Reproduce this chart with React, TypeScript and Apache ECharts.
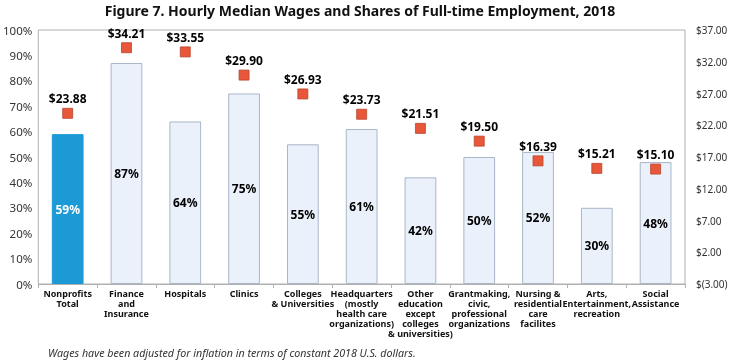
import React, { useEffect, useRef } from "react";
import * as echarts from "echarts";

const categories = [
  "Nonprofits\nTotal",
  "Finance\nand\nInsurance",
  "Hospitals",
  "Clinics",
  "Colleges\n& Universities",
  "Headquarters\n(mostly\nhealth care\norganizations)",
  "Other\neducation\nexcept\ncolleges\n& universities)",
  "Grantmaking,\ncivic,\nprofessional\norganizations",
  "Nursing &\nresidential\ncare\nfacilites",
  "Arts,\nEntertainment,\nrecreation",
  "Social\nAssistance",
];
const fullTimeShare = [59, 87, 64, 75, 55, 61, 42, 50, 52, 30, 48];
const medianWage = [23.88, 34.21, 33.55, 29.9, 26.93, 23.73, 21.51, 19.5, 16.39, 15.21, 15.1];

const titleText = "Figure 7. Hourly Median Wages and Shares of Full-time Employment, 2018";
const noteText = "Wages have been adjusted for inflation in terms of constant 2018 U.S. dollars.";

const FONT = "'Noto Sans', 'DejaVu Sans', sans-serif";

export default function App() {
  const ref = useRef<HTMLDivElement>(null);
  useEffect(() => {
    if (!ref.current) return;
    const chart = echarts.init(ref.current, undefined, { renderer: "svg" });
    chart.setOption({
      animation: false,
      textStyle: { fontFamily: FONT },
      grid: {
        left: 38,
        right: 59,
        top: 30,
        bottom: 80,
        show: true,
        borderColor: "#b0b0b0",
        borderWidth: 1,
        backgroundColor: "transparent",
      },
      graphic: [
        {
          type: "text",
          x: 360,
          y: 10,
          style: {
            text: titleText,
            textAlign: "center",
            textVerticalAlign: "middle",
            font: `bold 14px ${FONT}`,
            fill: "#111",
          },
        },
        {
          type: "text",
          x: 48,
          y: 353,
          style: {
            text: noteText,
            textAlign: "left",
            textVerticalAlign: "middle",
            font: `italic 10.7px ${FONT}`,
            fill: "#333",
          },
        },
      ],
      xAxis: {
        type: "category",
        data: categories,
        axisLine: { show: true, lineStyle: { color: "#b0b0b0" } },
        axisTick: { show: true, length: 4, lineStyle: { color: "#b0b0b0" } },
        axisLabel: {
          interval: 0,
          margin: 4,
          fontWeight: 700,
          fontSize: 9,
          lineHeight: 10,
          color: "#111",
          fontFamily: FONT,
        },
      },
      yAxis: [
        {
          type: "value",
          min: 0,
          max: 100,
          interval: 10,
          position: "left",
          axisLine: { show: false },
          axisTick: { show: false },
          splitLine: { show: false },
          axisLabel: {
            formatter: "{value}%",
            fontSize: 11.5,
            color: "#333",
            margin: 6,
            fontFamily: FONT,
          },
        },
        {
          type: "value",
          min: -3,
          max: 37,
          interval: 5,
          position: "right",
          axisLine: { show: false },
          axisTick: { show: false },
          splitLine: { show: false },
          axisLabel: {
            formatter: (v: number) =>
              v < 0 ? `$(${Math.abs(v).toFixed(2)})` : `$${v.toFixed(2)}`,
            fontSize: 10,
            color: "#333",
            margin: 11,
            fontFamily: FONT,
          },
        },
      ],
      series: [
        {
          type: "bar",
          yAxisIndex: 0,
          barWidth: "54%",
          data: fullTimeShare.map((v, i) => ({
            value: v,
            itemStyle:
              i === 0
                ? { color: "#1b9ad6", borderColor: "#1b9ad6", borderWidth: 1 }
                : { color: "#eaf1fa", borderColor: "#a9b6c8", borderWidth: 1 },
            label: { color: i === 0 ? "#ffffff" : "#000" },
          })),
          label: {
            show: true,
            position: "inside",
            formatter: "{c}%",
            fontWeight: 700,
            fontSize: 12,
            fontFamily: FONT,
          },
        },
        {
          type: "scatter",
          yAxisIndex: 1,
          symbol: "rect",
          symbolSize: 10,
          itemStyle: { color: "#e9573a", borderColor: "#b8452c", borderWidth: 0.8, opacity: 1 },
          data: medianWage.map((v) => ({
            value: v,
            label: {
              show: true,
              position: "top",
              distance: 3,
              formatter: `$${v.toFixed(2)}`,
              fontWeight: 700,
              fontSize: 12,
              color: "#000",
              opacity: 1,
              fontFamily: FONT,
            },
          })),
        },
      ],
    });
    return () => chart.dispose();
  }, []);
  return (
    <div
      ref={ref}
      style={{ position: "fixed", left: 0, top: 0, width: 744, height: 364 }}
    />
  );
}
